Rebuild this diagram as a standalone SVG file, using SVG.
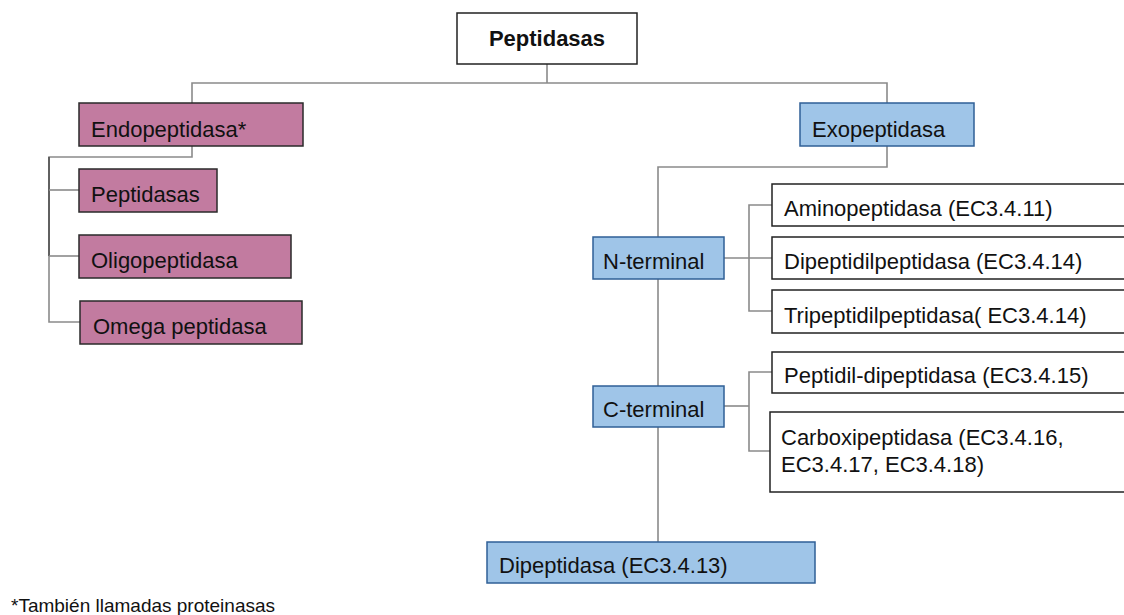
<svg xmlns="http://www.w3.org/2000/svg" width="1124" height="615" viewBox="0 0 1124 615">
<style>
.c{fill:none;stroke:#8a8a8a;stroke-width:1.6}
.cd{fill:none;stroke:#5a5a5a;stroke-width:1.8}
.w{fill:#ffffff;stroke:#222222;stroke-width:1.5}
.p{fill:#c27ba0;stroke:#2a2a2a;stroke-width:1.5}
.b{fill:#9fc5e8;stroke:#2f5f96;stroke-width:1.5}
text{font-family:"Liberation Sans",Arial,sans-serif;font-size:22px;fill:#111111}
.t{font-weight:bold;text-anchor:middle}
.f{font-size:19px}
</style>
<g id="connectors">
<polyline class="c" points="547,64 547,83"/>
<polyline class="c" points="192,103 192,83 887,83 887,103"/>
<polyline class="c" points="192,146 192,157 49,157 49,322 80,322"/>
<polyline class="cd" points="49,157 49,256"/>
<polyline class="c" points="49,190 79,190"/>
<polyline class="c" points="49,256 79,256"/>
<polyline class="c" points="887,146 887,167 658,167 658,237"/>
<polyline class="c" points="724,258 772,258"/>
<polyline class="c" points="772,205 749,205 749,311 772,311"/>
<polyline class="c" points="658,279 658,386"/>
<polyline class="c" points="724,406 749,406"/>
<polyline class="c" points="772,372 749,372 749,451 770,451"/>
<polyline class="c" points="658,427 658,542"/>
</g>
<g id="root"><rect class="w" x="457" y="13" width="180" height="51"/><text class="t" x="547" y="46">Peptidasas</text></g>
<g id="endo"><rect class="p" x="79" y="103" width="224" height="43"/><text x="91" y="137">Endopeptidasa*</text></g>
<g id="peptidasas"><rect class="p" x="79" y="169" width="138" height="43"/><text x="91" y="202">Peptidasas</text></g>
<g id="oligo"><rect class="p" x="79" y="235" width="212" height="43"/><text x="91" y="268">Oligopeptidasa</text></g>
<g id="omega"><rect class="p" x="80" y="301" width="222" height="43"/><text x="93" y="334">Omega peptidasa</text></g>
<g id="exo"><rect class="b" x="800" y="103" width="174" height="43"/><text x="812" y="137">Exopeptidasa</text></g>
<g id="nterm"><rect class="b" x="593" y="237" width="131" height="42"/><text x="603" y="269">N-terminal</text></g>
<g id="amino"><rect class="w" x="772" y="184" width="360" height="42"/><text x="784" y="216">Aminopeptidasa (EC3.4.11)</text></g>
<g id="dipeptidil"><rect class="w" x="772" y="237" width="360" height="42"/><text x="784" y="269">Dipeptidilpeptidasa (EC3.4.14)</text></g>
<g id="tripeptidil"><rect class="w" x="772" y="290" width="360" height="43"/><text x="784" y="323">Tripeptidilpeptidasa( EC3.4.14)</text></g>
<g id="cterm"><rect class="b" x="593" y="386" width="131" height="41"/><text x="603" y="417">C-terminal</text></g>
<g id="peptidildi"><rect class="w" x="772" y="352" width="360" height="41"/><text x="784" y="383">Peptidil-dipeptidasa (EC3.4.15)</text></g>
<g id="carboxi"><rect class="w" x="770" y="412" width="362" height="80"/><text x="781" y="445">Carboxipeptidasa (EC3.4.16,</text><text x="781" y="472">EC3.4.17, EC3.4.18)</text></g>
<g id="dipeptidasa"><rect class="b" x="487" y="542" width="328" height="41"/><text x="499" y="573">Dipeptidasa (EC3.4.13)</text></g>
<text class="f" x="11" y="612">*También llamadas proteinasas</text>
</svg>
